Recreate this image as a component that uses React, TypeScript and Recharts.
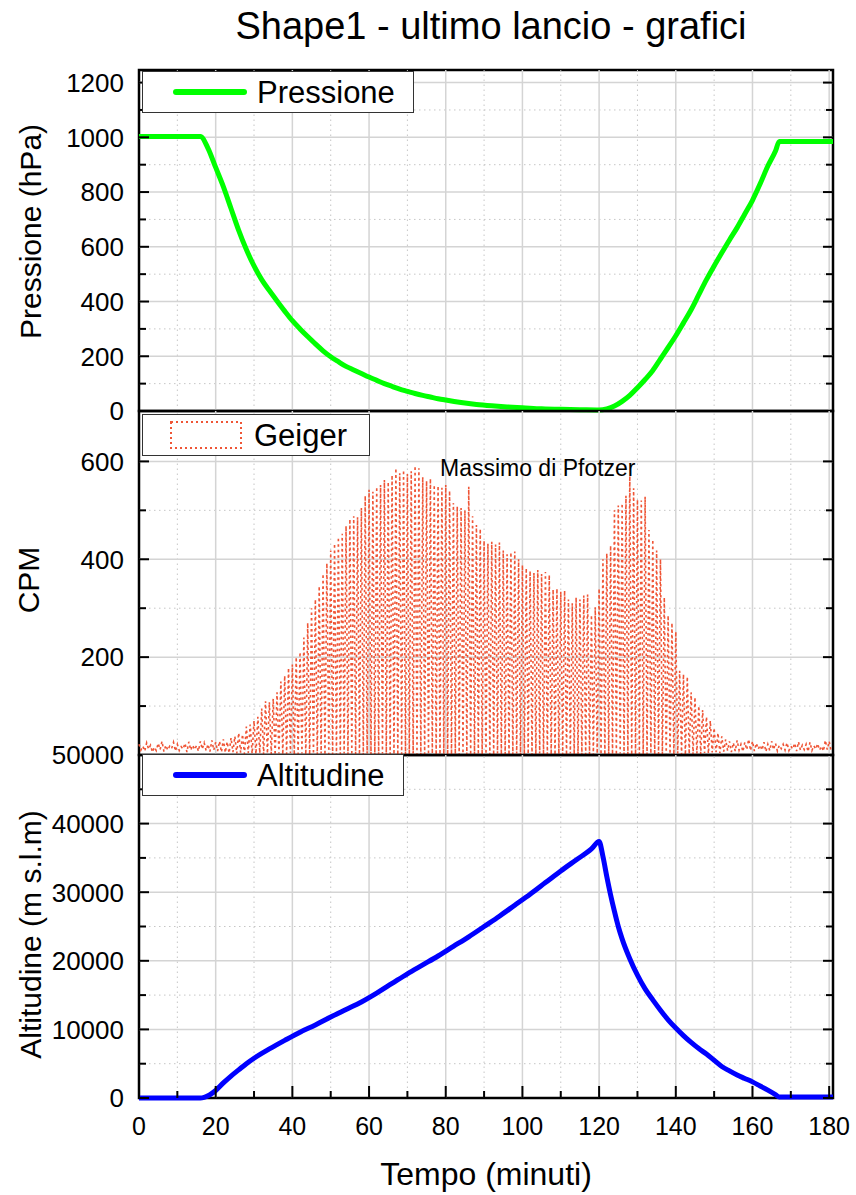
import React from "react"
import {
  Legend,
  Line,
  LineChart,
  ReferenceArea,
  ReferenceDot,
  ReferenceLine,
  XAxis,
  YAxis,
} from "recharts"

const FONT = '"Liberation Sans", Arial, Helvetica, sans-serif'

// time axis, minutes after launch
const timeTicks = [0, 10, 20, 30, 40, 50, 60, 70, 80, 90, 100, 110, 120, 130, 140, 150, 160, 170, 180]
const timeMajor = [20, 40, 60, 80, 100, 120, 140, 160, 180]
const timeMinor = [10, 30, 50, 70, 90, 110, 130, 150, 170]

// pressure (hPa)
const pressureTime = [
  0, 5, 10, 16, 18, 20, 22, 24, 26, 28, 30, 32, 34, 36, 38, 40, 42, 44, 46, 48, 50, 52, 54, 56, 58, 60,
  62, 64, 66, 68, 70, 72, 74, 76, 78, 80, 84, 88, 92, 96, 100, 105, 110, 115, 120, 122, 124, 126, 128,
  130, 132, 134, 136, 138, 140, 142, 144, 146, 148, 150, 152, 154, 156, 158, 160, 162, 164, 166, 167,
  170, 175, 181,
]
const pressureHpa = [
  1003, 1003, 1003, 1003, 960, 890, 820, 740, 660, 590, 530, 480, 440, 402, 365, 330, 300, 272, 245, 220,
  198, 180, 163, 150, 137, 124, 112, 100, 90, 80, 72, 64, 57, 51, 45, 40, 31, 24, 19, 15, 12, 8, 6, 5, 4,
  8, 18, 35, 57, 85, 115, 148, 190, 232, 275, 322, 370, 425, 480, 530, 578, 625, 670, 720, 770, 830, 895,
  950, 985, 985, 985, 985,
]

// geiger counter (CPM): peak reading and trough reading for every minute
const geigerPeak = [
  22, 18, 25, 20, 16, 24, 28, 20, 18, 26,
  22, 17, 24, 27, 20, 19, 28, 25, 22, 30,
  26, 28, 32, 27, 35, 38, 45, 42, 58, 62,
  70, 78, 95, 110, 108, 115, 128, 150, 162, 178,
  185, 200, 210, 240, 270, 300, 318, 345, 370, 392,
  418, 432, 445, 452, 468, 482, 488, 486, 505, 530,
  542, 538, 548, 552, 562, 558, 572, 586, 576, 582,
  574, 580, 591, 586, 568, 560, 565, 552, 550, 546,
  552, 540, 515, 508, 505, 500, 548, 488, 470, 462,
  438, 432, 436, 430, 434, 418, 410, 414, 416, 400,
  388, 382, 376, 372, 378, 370, 374, 368, 338, 340,
  334, 336, 318, 310, 322, 318, 326, 328, 286, 302,
  340, 400, 412, 428, 500, 510, 514, 530, 570, 545,
  522, 520, 528, 460, 440, 418, 400, 322, 285, 270,
  252, 172, 165, 160, 128, 118, 100, 92, 78, 70,
  55, 45, 38, 32, 28, 25, 30, 22, 26, 32,
  28, 24, 20, 26, 22, 28, 24, 20, 22, 25,
  18, 24, 27, 20, 22, 26, 19, 23, 18, 30, 28,
]
const geigerLow = [
  10, 8, 12, 6, 9, 11, 7, 10, 13, 8,
  9, 12, 6, 10, 11, 8, 12, 9, 7, 10,
  8, 6, 5, 4, 6, 3, 5, 2, 4, 3,
  2, 4, 1, 3, 2, 0, 3, 1, 2, 4,
  0, 2, 3, 1, 0, 2, 1, 3, 0, 2,
  1, 0, 2, 3, 1, 0, 2, 1, 0, 3,
  2, 0, 1, 3, 0, 2, 1, 0, 2, 1,
  0, 3, 1, 0, 2, 1, 3, 0, 1, 2,
  0, 1, 2, 0, 3, 1, 0, 2, 1, 0,
  2, 1, 0, 3, 1, 2, 0, 1, 3, 0,
  1, 2, 0, 1, 3, 0, 2, 1, 0, 2,
  1, 0, 3, 1, 2, 0, 1, 2, 0, 3,
  1, 0, 2, 1, 0, 3, 1, 2, 0, 1,
  2, 0, 1, 3, 0, 2, 1, 0, 2, 1,
  3, 1, 0, 2, 1, 3, 2, 4, 3, 5,
  6, 4, 7, 9, 6, 8, 10, 7, 11, 9,
  8, 12, 10, 7, 9, 11, 8, 13, 10, 9,
  12, 8, 10, 11, 7, 9, 12, 10, 8, 11, 9,
]

// altitude (m above sea level)
const altitudeTime = [
  0, 16, 17, 20, 22, 24, 26, 28, 30, 34, 38, 42, 46, 50, 54, 58, 62, 66, 70, 74, 78, 82, 86, 90, 94,
  98, 102, 106, 110, 114, 118, 120, 121, 122, 123, 124, 125, 126, 128, 130, 132, 134, 136, 138, 140,
  142, 144, 146, 148, 150, 152, 154, 156, 158, 160, 162, 164, 166, 167, 170, 175, 181,
]
const altitudeM = [
  0, 0, 100, 1100, 2200, 3200, 4100, 5000, 5800, 7150, 8400, 9600, 10650, 11800, 12900, 14000, 15300,
  16700, 18100, 19400, 20700, 22100, 23500, 25000, 26500, 28100, 29700, 31400, 33100, 34700, 36300,
  37400, 35200, 32300, 29600, 27200, 25000, 23200, 20300, 17900, 15900, 14300, 12800, 11400, 10200,
  9100, 8100, 7200, 6400, 5500, 4600, 3950, 3350, 2850, 2350, 1750, 1150, 500, 150, 150, 150, 150,
]

// y axes
const pressureTicks = [0, 100, 200, 300, 400, 500, 600, 700, 800, 900, 1000, 1100, 1200]
const pressureLabels = [0, 200, 400, 600, 800, 1000, 1200]
const pressureMinor = [100, 300, 500, 700, 900, 1100]
const cpmTicks = [100, 200, 300, 400, 500, 600]
const cpmLabels = [200, 400, 600]
const cpmMinor = [100, 300, 500]
const altitudeTicks = [0, 5000, 10000, 15000, 20000, 25000, 30000, 35000, 40000, 45000, 50000]
const altitudeLabels = [0, 10000, 20000, 30000, 40000, 50000]
const altitudeMinor = [5000, 15000, 25000, 35000, 45000]

const pressureData = pressureTime.map((t, i) => ({ t, p: pressureHpa[i] }))
const altitudeData = altitudeTime.map((t, i) => ({ t, h: altitudeM[i] }))
const geigerData = geigerPeak.flatMap((peak, i) => [
  { t: i, cpm: peak },
  { t: i + 0.5, cpm: geigerLow[i] },
])

const CHART_WIDTH = 856
const PLOT_LEFT = 139
const PLOT_WIDTH = 694
const Y_GAP = 15
const X_GAP = 19
const TIME_DOMAIN: [number, number] = [0, 181]
const MAJOR_GRID = "#d4d4d4"
const MINOR_GRID = "#c6c6c6"

function ValueTick(props: any) {
  const { x, y, payload, labels } = props
  const axisX = x + Y_GAP
  const labelled = labels.includes(payload.value)
  const len = labelled ? 10 : 7
  return (
    <g>
      <line x1={axisX} x2={axisX + len} y1={y} y2={y} stroke="#000" strokeWidth={2} />
      <line
        x1={axisX + PLOT_WIDTH}
        x2={axisX + PLOT_WIDTH - len}
        y1={y}
        y2={y}
        stroke="#000"
        strokeWidth={2}
      />
      {labelled && (
        <text x={x} y={y} dy="0.36em" textAnchor="end" fontSize={26} fontFamily={FONT} fill="#000">
          {payload.value}
        </text>
      )}
    </g>
  )
}

// x ticks point up into the plot from its bottom edge
function TimeTick(props: any) {
  const { x, payload, showLabel, plotBottom } = props
  const major = payload.value % 20 === 0
  return (
    <g>
      <line x1={x} x2={x} y1={plotBottom} y2={plotBottom - (major ? 12 : 7)} stroke="#000" strokeWidth={2} />
      {showLabel && major && (
        <text
          x={x}
          y={plotBottom + X_GAP}
          dy="0.71em"
          textAnchor="middle"
          fontSize={25}
          fontFamily={FONT}
          fill="#000"
        >
          {payload.value}
        </text>
      )}
    </g>
  )
}

function AxisTitle(props: any) {
  const { viewBox, text, baseX, shift } = props
  const cy = viewBox.y + viewBox.height / 2 + shift
  return (
    <text
      x={baseX}
      y={cy}
      transform={`rotate(-90 ${baseX} ${cy})`}
      textAnchor="middle"
      fontSize={30}
      fontFamily={FONT}
      fill="#000"
    >
      {text}
    </text>
  )
}

function TimeTitle(props: any) {
  const { viewBox } = props
  return (
    <text
      x={viewBox.x + viewBox.width / 2}
      y={viewBox.y + 87}
      textAnchor="middle"
      fontSize={32}
      fontFamily={FONT}
      fill="#000"
    >
      Tempo (minuti)
    </text>
  )
}

function LegendBox(props: any) {
  const { payload, sample, padRight } = props
  const item = payload && payload[0]
  if (!item) return null
  return (
    <div
      style={{
        display: "inline-flex",
        alignItems: "center",
        boxSizing: "border-box",
        height: 42,
        paddingLeft: sample === "dots" ? 27 : 30,
        paddingRight: padRight,
        border: "1px solid #333",
        background: "#fff",
        fontFamily: FONT,
        fontSize: 31,
        lineHeight: 1,
        color: "#000",
      }}
    >
      <svg width={74} height={30} style={{ display: "block" }}>
        {sample === "dots" ? (
          <rect
            x={1}
            y={2}
            width={70}
            height={26}
            fill="none"
            stroke={item.color}
            strokeWidth={2}
            strokeDasharray="2 3"
          />
        ) : (
          <line x1={3} x2={71} y1={15} y2={15} stroke={item.color} strokeWidth={6} strokeLinecap="round" />
        )}
      </svg>
      <span style={{ marginLeft: 10 }}>{item.value}</span>
    </div>
  )
}

type PanelProps = {
  top: number
  height: number
  marginTop: number
  marginBottom: number
  xAxisHeight: number
  data: any[]
  dataKey: string
  name: string
  color: string
  strokeWidth: number
  curve: "linear" | "monotone"
  dash?: string
  yDomain: [number, number]
  yTicks: number[]
  yLabels: number[]
  yMinor: number[]
  yTitle: string
  titleX: number
  titleShift: number
  legendTop: number
  legendPad: number
  sample: "line" | "dots"
  showTime: boolean
  children?: React.ReactNode
}

function Panel(p: PanelProps) {
  const yMajor = p.yLabels.filter((v) => v > p.yDomain[0] && v < p.yDomain[1])
  const plotBottom = p.height - p.marginBottom - p.xAxisHeight
  return (
    <div style={{ position: "absolute", left: 0, top: p.top }}>
      <LineChart
        width={CHART_WIDTH}
        height={p.height}
        data={p.data}
        margin={{ top: p.marginTop, right: CHART_WIDTH - PLOT_LEFT - PLOT_WIDTH, bottom: p.marginBottom, left: 0 }}
      >
        <XAxis
          dataKey="t"
          type="number"
          domain={TIME_DOMAIN}
          ticks={timeTicks}
          interval={0}
          height={p.xAxisHeight}
          tickSize={0}
          tickLine={false}
          axisLine={false}
          tick={(t: any) => <TimeTick {...t} showLabel={p.showTime} plotBottom={plotBottom} />}
          label={p.showTime ? <TimeTitle /> : undefined}
        />
        <YAxis
          type="number"
          domain={p.yDomain}
          ticks={p.yTicks}
          interval={0}
          width={PLOT_LEFT}
          tickSize={0}
          tickMargin={Y_GAP}
          tickLine={false}
          axisLine={false}
          tick={(t: any) => <ValueTick {...t} labels={p.yLabels} />}
          label={<AxisTitle text={p.yTitle} baseX={p.titleX} shift={p.titleShift} />}
        />
        {p.yMinor.map((v) => (
          <ReferenceLine key={`hm${v}`} y={v} stroke={MINOR_GRID} strokeDasharray="1.5 3.5" />
        ))}
        {timeMinor.map((v) => (
          <ReferenceLine key={`vm${v}`} x={v} stroke={MINOR_GRID} strokeDasharray="1.5 3.5" />
        ))}
        {yMajor.map((v) => (
          <ReferenceLine key={`h${v}`} y={v} stroke={MAJOR_GRID} strokeWidth={1.5} />
        ))}
        {timeMajor.map((v) => (
          <ReferenceLine key={`v${v}`} x={v} stroke={MAJOR_GRID} strokeWidth={1.5} />
        ))}
        <Legend
          layout="horizontal"
          verticalAlign="middle"
          align="center"
          wrapperStyle={{ left: 142, top: p.legendTop, width: "auto", height: "auto" }}
          content={(lp: any) => <LegendBox {...lp} sample={p.sample} padRight={p.legendPad} />}
        />
        <Line
          type={p.curve}
          dataKey={p.dataKey}
          name={p.name}
          stroke={p.color}
          strokeWidth={p.strokeWidth}
          strokeDasharray={p.dash}
          dot={false}
          activeDot={false}
          isAnimationActive={false}
        />
        {p.children}
        <ReferenceArea
          x1={TIME_DOMAIN[0]}
          x2={TIME_DOMAIN[1]}
          y1={p.yDomain[0]}
          y2={p.yDomain[1]}
          fill="none"
          fillOpacity={0}
          stroke="#000"
          strokeWidth={2.5}
          ifOverflow="visible"
        />
      </LineChart>
    </div>
  )
}

export default function App() {
  return (
    <div style={{ position: "absolute", left: 0, top: 0, width: 856, height: 1195, background: "#fff" }}>
      <div
        style={{
          position: "absolute",
          left: 491,
          top: 5,
          transform: "translateX(-50%)",
          whiteSpace: "nowrap",
          fontFamily: FONT,
          fontSize: 38,
          lineHeight: "42px",
          color: "#000",
        }}
      >
        Shape1 - ultimo lancio - grafici
      </div>
      <Panel
        top={50}
        height={381}
        marginTop={20}
        marginBottom={20}
        xAxisHeight={0}
        data={pressureData}
        dataKey="p"
        name="Pressione"
        color="#00ff00"
        strokeWidth={5}
        curve="monotone"
        yDomain={[0, 1246]}
        yTicks={pressureTicks}
        yLabels={pressureLabels}
        yMinor={pressureMinor}
        yTitle="Pressione (hPa)"
        titleX={41}
        titleShift={-9}
        legendTop={21}
        legendPad={18}
        sample="line"
        showTime={false}
      />
      <Panel
        top={391}
        height={384}
        marginTop={20}
        marginBottom={20}
        xAxisHeight={0}
        data={geigerData}
        dataKey="cpm"
        name="Geiger"
        color="#ef5536"
        strokeWidth={1.6}
        curve="linear"
        dash="2.5 3"
        yDomain={[0, 703]}
        yTicks={cpmTicks}
        yLabels={cpmLabels}
        yMinor={cpmMinor}
        yTitle="CPM"
        titleX={39}
        titleShift={-3}
        legendTop={23}
        legendPad={22}
        sample="dots"
        showTime={false}
      >
        <ReferenceDot
          x={104}
          y={587}
          r={0}
          fill="none"
          stroke="none"
          ifOverflow="visible"
          label={{ value: "Massimo di Pfotzer", position: "center", fontSize: 23, fontFamily: FONT, fill: "#000" }}
        />
      </Panel>
      <Panel
        top={735}
        height={460}
        marginTop={20}
        marginBottom={0}
        xAxisHeight={97}
        data={altitudeData}
        dataKey="h"
        name="Altitudine"
        color="#0000ff"
        strokeWidth={5}
        curve="monotone"
        yDomain={[0, 50000]}
        yTicks={altitudeTicks}
        yLabels={altitudeLabels}
        yMinor={altitudeMinor}
        yTitle="Altitudine (m s.l.m)"
        titleX={41}
        titleShift={8}
        legendTop={19}
        legendPad={18}
        sample="line"
        showTime={true}
      />
    </div>
  )
}
